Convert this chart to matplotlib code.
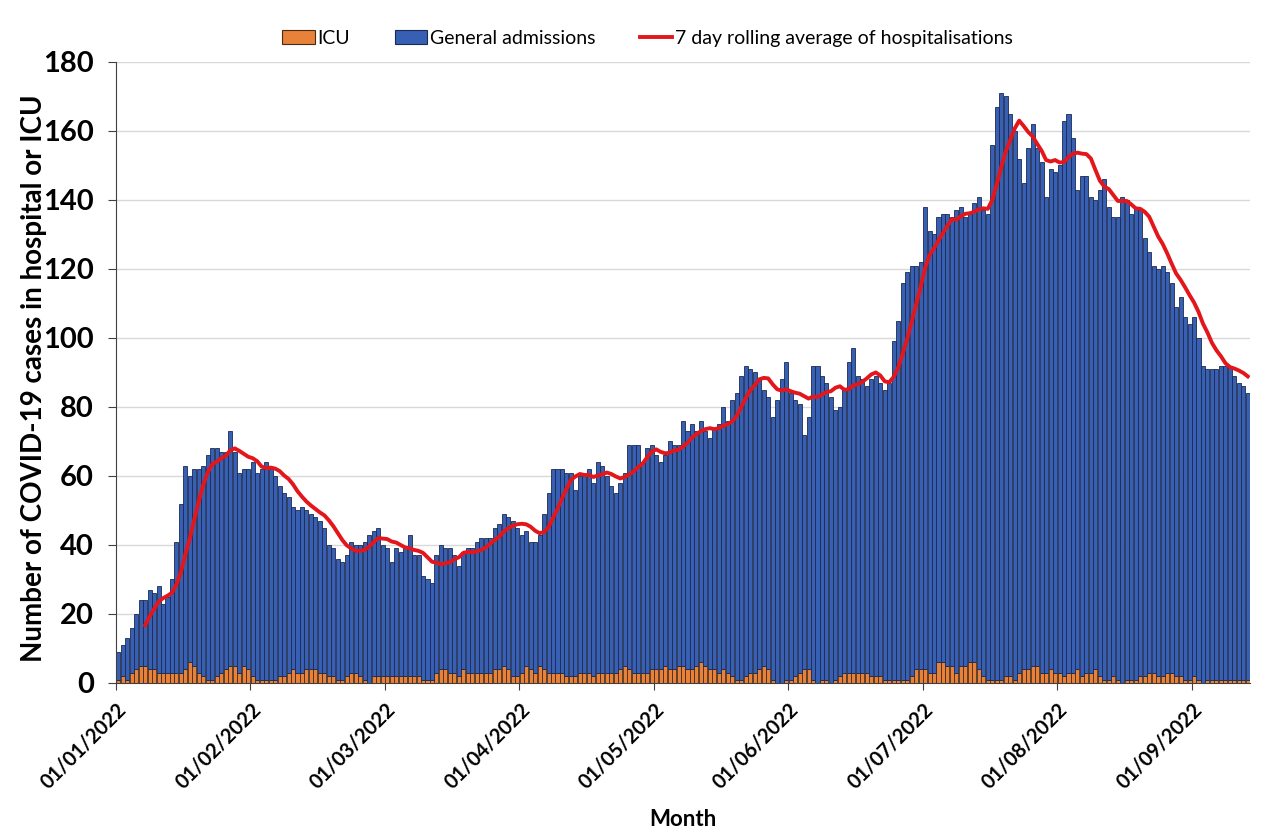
import numpy as np
import pandas as pd
import matplotlib
matplotlib.use("Agg")
import matplotlib.pyplot as plt
from matplotlib.patches import Patch
from matplotlib.lines import Line2D

plt.rcParams['font.family'] = ['Lato', 'DejaVu Sans']

# daily totals in hospital (ICU + general)
total_cases = (
    [9, 11, 13, 16, 20, 24, 24, 27, 26, 28, 23, 25, 30, 41, 52, 63, 60, 62, 62, 63,
     66, 68, 68, 67, 67, 73, 67, 61, 62, 62, 64, 61]
    + [62, 64, 62, 60, 57, 55, 54, 51, 50, 51, 50, 49, 48, 47, 45, 40, 39, 36, 35, 37,
       41, 40, 40, 41, 43, 44, 45, 40, 39, 35, 39, 38, 39, 43, 37, 37, 31, 30, 29]
    + [37, 40, 39, 39, 37, 34, 38, 39, 39, 41, 42, 42, 42, 45, 46]
    + [49, 48, 47, 45, 43, 44, 41, 41, 43, 49, 55, 62, 62, 62, 61, 61, 56, 60, 60, 62,
       58, 64, 63, 60, 57, 55, 58, 61, 69, 69, 69, 64, 68, 69, 66, 64, 66, 70, 69]
    + [69, 76, 73, 75, 73, 76, 73, 71, 74, 75, 80, 76, 82, 84, 89, 92, 91, 90, 88, 85,
       83, 77, 82, 88, 93, 84, 82, 81, 72, 77, 92, 92]
    + [89, 87, 83, 79, 80, 85, 93, 97, 89, 88, 86, 88, 89, 87, 85, 87, 99, 105, 116, 119,
       121, 121, 122, 138, 131, 130, 135]
    + [136, 136, 135, 137, 138, 135, 136, 139, 141, 137, 136, 156, 167, 171, 170, 165,
       160, 152, 145, 155, 162, 155, 151, 141, 149, 148, 150, 163, 165, 158, 143, 147,
       147, 141, 140, 143, 146]
    + [138, 135, 135, 141, 140, 136, 138, 137, 129, 125, 121, 120, 121, 119, 116, 109,
       112, 106, 104, 106, 100, 92, 91, 91, 91, 92, 92, 92, 89, 87, 86, 84]
)

icu = (
    [1, 2, 1, 3, 4, 5, 5, 4, 4, 3, 3, 3, 3, 3, 3]
    + [4, 6, 5, 3, 2, 1, 1, 2, 3, 4, 5, 5, 3, 5, 4, 2, 1]
    + [1, 1, 1, 1, 2, 2, 3, 4, 3, 3, 4, 4, 4, 3, 3, 2, 2, 1, 1, 2, 3, 3, 2, 1, 0, 2, 2,
       2, 2, 2, 2]
    + [2, 2, 2, 2, 2, 1, 1, 1, 3, 4, 4, 3, 3, 2, 4, 3, 3, 3, 3, 3, 3, 4, 4, 5, 4, 2, 2,
       3, 5, 4, 3]
    + [5, 4, 3, 3, 3, 3, 2, 2, 2, 3, 3, 3, 2, 3, 3, 3, 3, 3, 4, 5, 4, 3, 3, 3, 3, 4, 4,
       4, 5, 4, 4]
    + [5, 5, 4, 4, 5, 6, 5, 4, 4, 3, 4, 3, 2, 1, 1, 2, 3, 3, 4, 5, 4, 1, 0, 0, 1, 1, 2,
       3, 4, 4, 1, 0]
    + [1, 1, 0, 1, 2, 3, 3, 3, 3, 3, 3, 2, 2, 2, 1, 1, 1, 1, 1, 1, 2, 4, 4, 4, 3, 3, 6]
    + [6, 5, 5, 3, 5, 5, 6, 6, 4, 2, 1, 1, 1, 1, 2, 2, 1, 3, 4, 4, 5, 5, 3, 3, 4, 3, 3,
       2, 3, 3, 4, 2, 3, 3, 4, 2, 1]
    + [1, 2, 1, 0, 1, 1, 1, 2, 2, 3, 3, 2, 2, 3, 3, 2, 2, 1, 1, 2, 1, 0, 1, 1, 1, 1, 1,
       1, 1, 1, 1, 1]
)

month_labels = ['01/01/2022', '01/02/2022', '01/03/2022', '01/04/2022', '01/05/2022',
                '01/06/2022', '01/07/2022', '01/08/2022', '01/09/2022']

total_cases = np.array(total_cases, dtype=float)
icu = np.array(icu, dtype=float)
general = total_cases - icu
rolling = pd.Series(total_cases).rolling(7).mean()

n = len(total_cases)
x = np.arange(n) + 0.5

fig = plt.figure(figsize=(12.8, 8.34), dpi=100)
ax = fig.add_axes([0.0906, 0.1811, 0.8860, 0.7446])

orange = '#E8823A'
blue = '#3760B5'
red = '#E3161B'

ax.bar(x, icu, width=0.9, color=orange, edgecolor='#4a2a10', linewidth=0.6, zorder=2)
ax.bar(x, general, bottom=icu, width=0.9, color=blue, edgecolor='#1B2A50',
       linewidth=0.6, zorder=2)
ax.plot(x, rolling, color=red, linewidth=2.8, zorder=3)

ax.set_xlim(0, n)
ax.set_ylim(0, 180)
ax.set_yticks(np.arange(0, 181, 20))
ax.set_xticks(np.arange(0, 30 * len(month_labels), 30))
ax.set_xticklabels(month_labels, rotation=45, ha='right', rotation_mode='anchor',
                   fontsize=14.5, fontweight='bold')
for lab in ax.get_yticklabels():
    lab.set_fontsize(21)
    lab.set_fontweight('bold')

ax.grid(axis='y', color='#d9d9d9', linewidth=1, zorder=0)
ax.set_axisbelow(True)
for s in ['top', 'right']:
    ax.spines[s].set_visible(False)
for s in ['left', 'bottom']:
    ax.spines[s].set_color('#404040')
ax.tick_params(axis='y', length=6, color='#404040', pad=10)
ax.tick_params(axis='x', length=5, color='#404040', pad=7)

ax.set_ylabel('Number of COVID-19 cases in hospital or ICU', fontsize=20,
              fontweight='bold')
ax.yaxis.set_label_coords(-0.061, 0.49)
ax.set_xlabel('Month', fontsize=16, fontweight='bold')
ax.xaxis.set_label_coords(0.5, -0.203)

handles = [Patch(facecolor=orange, edgecolor='#4a2a10', linewidth=0.8),
           Patch(facecolor=blue, edgecolor='#1B2A50', linewidth=0.8),
           Line2D([0], [0], color=red, linewidth=2.8)]
fig.legend(handles, ['ICU', 'General admissions', '7 day rolling average of hospitalisations'],
           loc='center', bbox_to_anchor=(0.506, 0.954), ncol=3, frameon=False,
           fontsize=14, handlelength=1.65, handletextpad=0.15, columnspacing=2.3)

fig.savefig('out.png', dpi=100)
